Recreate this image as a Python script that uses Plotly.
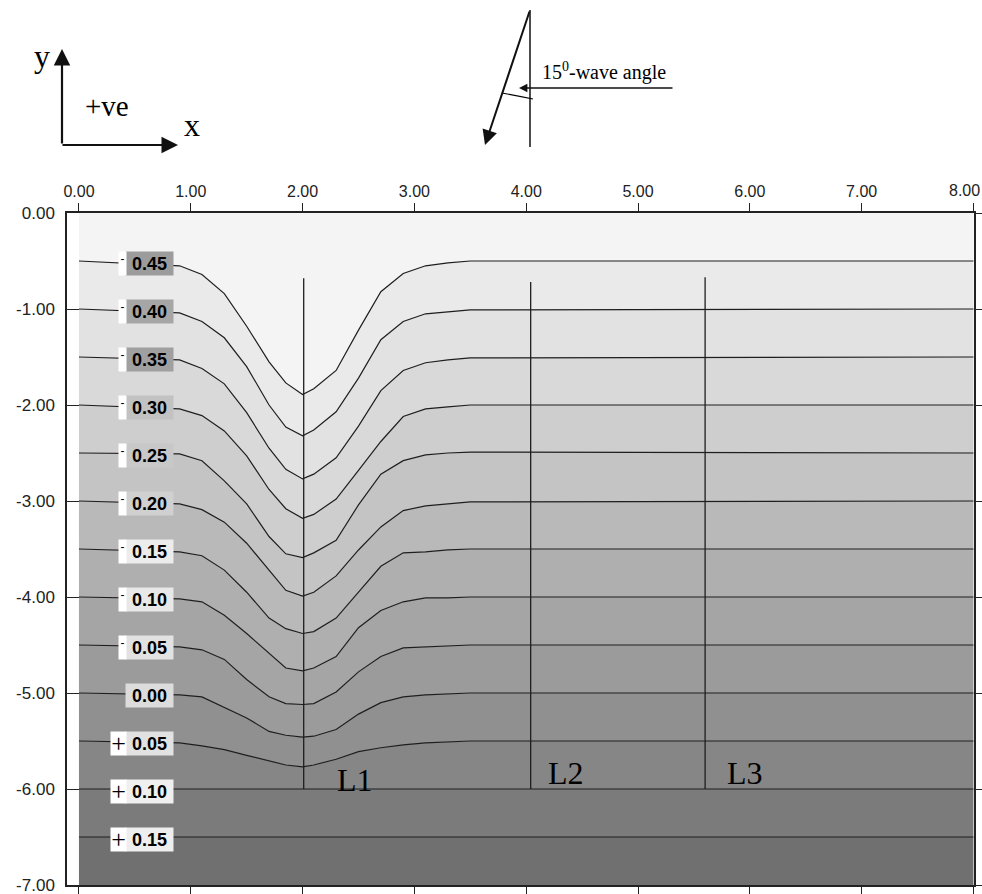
import plotly.graph_objects as go

# ---------------- data ----------------
X_TICKS = [0, 1, 2, 3, 4, 5, 6, 7, 8]
X_TICK_TEXT = ["0.00", "1.00", "2.00", "3.00", "4.00", "5.00", "6.00", "7.00", "8.00"]
Y_TICKS = [0, -1, -2, -3, -4, -5, -6, -7]
Y_TICK_TEXT = ["0.00", "-1.00", "-2.00", "-3.00", "-4.00", "-5.00", "-6.00", "-7.00"]

X_START = 0.0
X_END = 8.0

LEVEL_TEXT = ["0.45", "0.40", "0.35", "0.30", "0.25", "0.20", "0.15",
              "0.10", "0.05", "0.00", "0.05", "0.10", "0.15"]
LEVEL_SIGN = ["-", "-", "-", "-", "-", "-", "-", "-", "-", "", "+", "+", "+"]
BASE_Y = [-0.5, -1.0, -1.5, -2.0, -2.5, -3.0, -3.5, -4.0, -4.5, -5.0, -5.5, -6.0, -6.5]

# x positions where the contours bend around the L1 section
DIP_X = [0.9, 1.1, 1.3, 1.5, 1.7, 1.85, 2.0, 2.1, 2.3, 2.5, 2.7, 2.9, 3.1, 3.3, 3.5]
C_M045 = [-0.55, -0.64, -0.84, -1.18, -1.55, -1.77, -1.89, -1.83, -1.64, -1.22, -0.82, -0.63, -0.55, -0.52, -0.50]
C_M040 = [-1.04, -1.13, -1.30, -1.60, -2.00, -2.23, -2.32, -2.26, -2.07, -1.72, -1.32, -1.13, -1.05, -1.03, -1.01]
C_M035 = [-1.53, -1.62, -1.78, -2.08, -2.45, -2.67, -2.77, -2.72, -2.55, -2.22, -1.85, -1.64, -1.56, -1.53, -1.51]
C_M030 = [-2.04, -2.11, -2.27, -2.53, -2.88, -3.08, -3.18, -3.14, -2.98, -2.68, -2.38, -2.12, -2.04, -2.02, -2.00]
C_M025 = [-2.51, -2.58, -2.79, -3.03, -3.37, -3.55, -3.59, -3.54, -3.41, -3.04, -2.72, -2.58, -2.52, -2.50, -2.49]
C_M020 = [-3.03, -3.09, -3.22, -3.44, -3.72, -3.93, -3.99, -3.95, -3.78, -3.51, -3.27, -3.10, -3.05, -3.03, -3.01]
C_M015 = [-3.53, -3.57, -3.72, -3.95, -4.22, -4.33, -4.38, -4.36, -4.22, -3.95, -3.68, -3.54, -3.53, -3.51, -3.50]
C_M010 = [-4.02, -4.05, -4.19, -4.38, -4.59, -4.74, -4.77, -4.74, -4.62, -4.32, -4.14, -4.05, -4.01, -4.01, -4.00]
C_M005 = [-4.52, -4.55, -4.65, -4.86, -5.04, -5.11, -5.12, -5.11, -4.99, -4.78, -4.62, -4.53, -4.52, -4.51, -4.50]
C_000 = [-5.02, -5.04, -5.15, -5.26, -5.40, -5.44, -5.46, -5.45, -5.38, -5.22, -5.10, -5.04, -5.02, -5.01, -5.00]
C_P005 = [-5.52, -5.55, -5.59, -5.65, -5.71, -5.75, -5.77, -5.75, -5.69, -5.61, -5.57, -5.54, -5.52, -5.51, -5.50]
CONTOUR_DIPS = [C_M045, C_M040, C_M035, C_M030, C_M025, C_M020, C_M015,
                C_M010, C_M005, C_000, C_P005, None, None]

# sections
L_NAMES = ["L1", "L2", "L3"]
L_X = [2.01, 4.04, 5.60]
L_TOP = [-0.68, -0.72, -0.67]
L_BOTTOM = [-6.0, -6.0, -6.0]

# ---------------- styles ----------------
BAND_COLORS = ["#f4f4f4", "#eaeaea", "#e2e2e2", "#d9d9d9", "#cecece", "#c4c4c4", "#b9b9b9",
               "#afafaf", "#a5a5a5", "#9b9b9b", "#909090", "#868686", "#7b7b7b", "#707070"]
LABEL_BG = ["#9c9c9c", "#a6a6a6", "#a0a0a0", "#c2c2c2", "#c8c8c8", "#d0d0d0", "#ececec",
            "#e8e8e8", "#e2e2e2", "#dcdcdc", "#e2e2e2", "#efefef", "#eeeeee"]
LINE_COLOR = "#1e1e1e"
SANS = "Liberation Sans, Arial, sans-serif"
SERIF = "Liberation Serif, Times New Roman, serif"

W, H = 982, 894
ML, MR, MT, MB = 67, 8, 213, 9


def px(xp, yp):
    """pixel position -> paper coordinates (for decorations outside the plot)"""
    return (xp - ML) / (W - ML - MR), (H - MB - yp) / (H - MT - MB)


fig = go.Figure()

# top boundary
fig.add_trace(go.Scatter(x=[X_START, X_END], y=[0, 0], mode="lines",
                         line=dict(width=0), hoverinfo="skip", showlegend=False))
for i, base in enumerate(BASE_Y):
    dip = CONTOUR_DIPS[i]
    if dip is None:
        xs = [X_START, X_END]
        ys = [base, base]
    else:
        xs = [X_START] + DIP_X + [X_END]
        ys = [base] + dip + [base]
    fig.add_trace(go.Scatter(x=xs, y=ys, mode="lines", fill="tonexty",
                             fillcolor=BAND_COLORS[i],
                             line=dict(color=LINE_COLOR, width=1.2),
                             hoverinfo="skip", showlegend=False))
# bottom boundary
fig.add_trace(go.Scatter(x=[X_START, X_END], y=[-7, -7], mode="lines", fill="tonexty",
                         fillcolor=BAND_COLORS[-1], line=dict(width=0),
                         hoverinfo="skip", showlegend=False))

# section lines
for name, lx, top, bot in zip(L_NAMES, L_X, L_TOP, L_BOTTOM):
    fig.add_trace(go.Scatter(x=[lx, lx], y=[top, bot], mode="lines",
                             line=dict(color=LINE_COLOR, width=1.3),
                             hoverinfo="skip", showlegend=False))

# empty trace to carry the mirror axes
fig.add_trace(go.Scatter(x=[None], y=[None], xaxis="x2", yaxis="y2",
                         mode="lines", showlegend=False, hoverinfo="skip"))

# contour labels
LABEL_X = 0.635
for txt, sign, base, bg in zip(LEVEL_TEXT, LEVEL_SIGN, BASE_Y, LABEL_BG):
    fig.add_annotation(x=LABEL_X, y=base, xref="x", yref="y", text="<b>" + txt + "</b>",
                       showarrow=False, bgcolor=bg, borderpad=1, width=45, height=21,
                       font=dict(family=SANS, size=18, color="black"), yshift=-2)
    if sign == "-":
        fig.add_annotation(x=LABEL_X, y=base, xref="x", yref="y", text="-",
                           showarrow=False, bgcolor="white", borderpad=0, width=7, height=23,
                           xanchor="right", xshift=-23, yshift=-2,
                           valign="top",
                           font=dict(family=SANS, size=12, color="black"))
    elif sign == "+":
        fig.add_annotation(x=LABEL_X, y=base, xref="x", yref="y", text="+",
                           showarrow=False, bgcolor="white", borderpad=0, width=15, height=23,
                           xanchor="right", xshift=-23, yshift=-2,
                           font=dict(family=SERIF, size=26, color="black"))

# section names
L_LABEL_X = [2.47, 4.36, 5.96]
L_LABEL_Y = [-5.91, -5.83, -5.83]
for name, lx, ly in zip(L_NAMES, L_LABEL_X, L_LABEL_Y):
    fig.add_annotation(x=lx, y=ly, xref="x", yref="y", text=name, showarrow=False,
                       font=dict(family=SERIF, size=32, color="black"))

# last top tick label sits shifted inward so it fits in the picture
lx8, ly8 = px(982, 190)
fig.add_annotation(x=lx8, y=ly8, xref="paper", yref="paper", text=X_TICK_TEXT[-1],
                   showarrow=False, xanchor="right", yanchor="middle",
                   font=dict(family=SANS, size=16, color="#222"))

# ---- decorations above the plot ----
# coordinate system sketch
tx, ty = px(62, 49)
fig.add_annotation(x=tx, y=ty, xref="paper", yref="paper", ax=0, ay=96, axref="pixel",
                   ayref="pixel", text="", showarrow=True, arrowhead=2, arrowsize=1.5,
                   arrowwidth=2.2, arrowcolor="#111", standoff=0)
tx, ty = px(178, 145)
fig.add_annotation(x=tx, y=ty, xref="paper", yref="paper", ax=-117, ay=0, text="",
                   showarrow=True, arrowhead=2, arrowsize=1.5, arrowwidth=2.2,
                   arrowcolor="#111", standoff=0)
for t, (xp, yp), s in [("y", (42, 56), 32), ("x", (192, 125), 32), ("+ve", (107, 106), 29)]:
    ax_, ay_ = px(xp, yp)
    fig.add_annotation(x=ax_, y=ay_, xref="paper", yref="paper", text=t, showarrow=False,
                       xanchor="center", yanchor="middle",
                       font=dict(family=SERIF, size=s, color="black"))

# wave angle sketch
x0, y0 = px(530, 10)
x1, y1 = px(530, 147)
fig.add_shape(type="line", xref="paper", yref="paper", x0=x0, y0=y0, x1=x1, y1=y1,
              line=dict(color="black", width=1.4))
tx, ty = px(485, 145)
fig.add_annotation(x=tx, y=ty, xref="paper", yref="paper", ax=45, ay=-135, text="",
                   showarrow=True, arrowhead=2, arrowsize=1.5, arrowwidth=2.0,
                   arrowcolor="#111", standoff=0)
tx, ty = px(519, 88)
fig.add_annotation(x=tx, y=ty, xref="paper", yref="paper", ax=155, ay=0, text="",
                   showarrow=True, arrowhead=2, arrowsize=1.2, arrowwidth=1.4,
                   arrowcolor="#111", standoff=0)
a0 = px(502, 93)
ac = px(518, 96)
a1 = px(533, 99)
fig.add_shape(type="path", xref="paper", yref="paper",
              path=f"M {a0[0]},{a0[1]} Q {ac[0]},{ac[1]} {a1[0]},{a1[1]}",
              line=dict(color="black", width=1.2))
tx, ty = px(604, 72)
fig.add_annotation(x=tx, y=ty, xref="paper", yref="paper",
                   text="15<sup>0</sup>-wave angle", showarrow=False,
                   xanchor="center", yanchor="middle",
                   font=dict(family=SERIF, size=20, color="black"))

x_range = [-0.107, 8.005]
axis_font = dict(family=SANS, size=17, color="#222")
fig.update_layout(
    width=W, height=H,
    margin=dict(l=ML, r=MR, t=MT, b=MB),
    paper_bgcolor="white", plot_bgcolor="white",
    showlegend=False,
    xaxis=dict(range=x_range, side="top", tickvals=X_TICKS,
               ticktext=X_TICK_TEXT[:-1] + [""],
               ticks="outside", ticklen=8, tickcolor="#222", showline=True,
               linecolor="#222", linewidth=1.5, showgrid=False, zeroline=False,
               tickfont=dict(family=SANS, size=16, color="#222"), fixedrange=True,
               automargin=False),
    xaxis2=dict(range=x_range, overlaying="x", side="bottom", tickvals=X_TICKS,
                ticks="outside", ticklen=8, tickcolor="#222", showticklabels=False,
                showline=True, linecolor="#222", linewidth=1.5, showgrid=False,
                zeroline=False, automargin=False),
    yaxis=dict(range=[-7, 0], tickvals=Y_TICKS, ticktext=Y_TICK_TEXT, ticks="inside",
               ticklen=12, tickcolor="#222", showline=True, linecolor="#222",
               linewidth=1.5, showgrid=False, zeroline=False, tickfont=axis_font,
               ticklabelstandoff=7, automargin=False, ticklabeloverflow="allow"),
    yaxis2=dict(range=[-7, 0], overlaying="y", side="right", tickvals=Y_TICKS,
                ticks="outside", ticklen=6, tickcolor="#222", showticklabels=False,
                showline=True, linecolor="#222", linewidth=1.5, showgrid=False,
                zeroline=False, automargin=False),
)

fig.write_html("out.html", config={"displayModeBar": False},
               post_script="document.body.style.margin='0px';")
